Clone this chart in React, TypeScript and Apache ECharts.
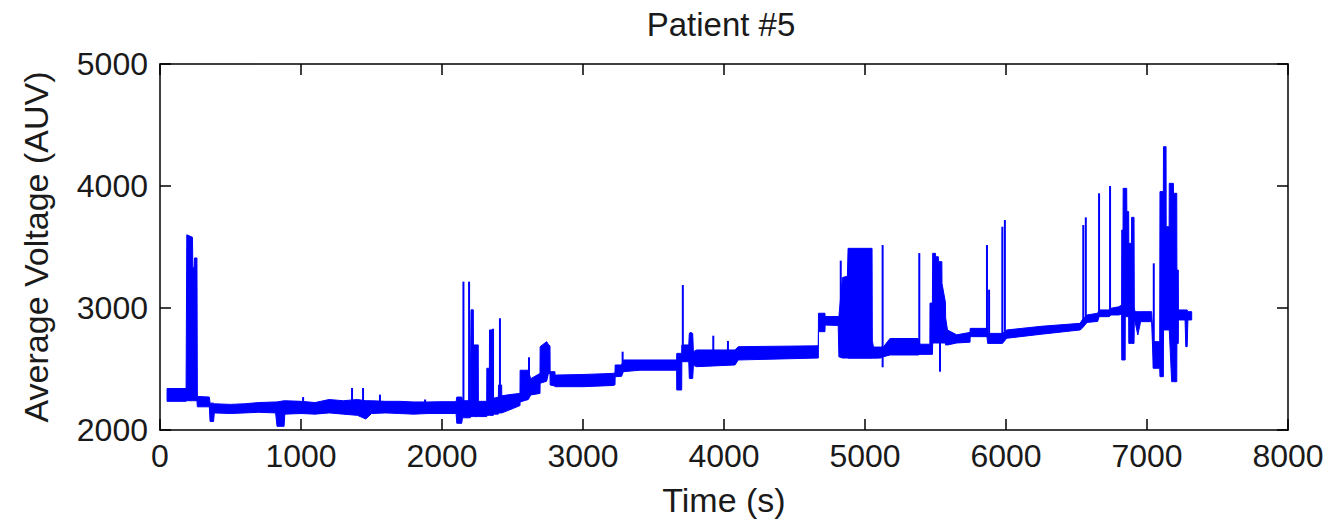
import React, { useEffect, useRef } from "react";
import * as echarts from "echarts";

// Envelope of the dense voltage trace: time (s), lower edge, upper edge (AUV)
const bandTime = [
  50, 185, 190, 230, 233, 242, 245, 262, 265, 350, 355, 380, 385, 500, 600, 700, 820, 830, 880, 885,
  1000, 1100, 1200, 1300, 1400, 1460, 1500, 1600, 1700, 1800, 1900, 2000, 2100, 2105, 2140, 2145, 2200, 2206, 2222, 2223,
  2257, 2258, 2317, 2318, 2336, 2337, 2364, 2365, 2400, 2401, 2423, 2424, 2480, 2553, 2554, 2612, 2629, 2695, 2696, 2742,
  2755, 2766, 2767, 2801, 2802, 3000, 3213, 3227, 3228, 3274, 3286, 3404, 3664, 3665, 3700, 3701, 3750, 3754, 3778, 3783,
  3806, 4078, 4101, 4669, 4670, 4716, 4717, 4810, 4815, 4840, 4875, 4880, 5050, 5052, 5060, 5110, 5130, 5177, 5376, 5390,
  5460, 5461, 5478, 5480, 5500, 5501, 5520, 5521, 5545, 5546, 5570, 5572, 5585, 5650, 5745, 5746, 5865, 5870, 5975, 6005,
  6250, 6525, 6540, 6575, 6650, 6660, 6733, 6742, 6800, 6820, 6821, 6830, 6831, 6845, 6846, 6856, 6857, 6870, 6871, 6890,
  6891, 6908, 6910, 6915, 6935, 6955, 7033, 7045, 7090, 7092, 7116, 7117, 7135, 7136, 7157, 7158, 7175, 7187, 7188, 7211,
  7212, 7222, 7223, 7270, 7275, 7285, 7290, 7317,
];
const bandLow = [
  2235, 2235, 2240, 2240, 2240, 2240, 2240, 2240, 2190, 2190, 2070, 2070, 2140, 2135, 2140, 2145, 2140, 2030, 2030, 2130,
  2135, 2130, 2140, 2130, 2120, 2090, 2135, 2140, 2135, 2130, 2135, 2135, 2135, 2055, 2055, 2100, 2100, 2110, 2110, 2110,
  2110, 2110, 2110, 2120, 2120, 2120, 2120, 2130, 2130, 2140, 2140, 2140, 2165, 2200, 2230, 2250, 2287, 2300, 2383, 2400,
  2464, 2464, 2369, 2360, 2355, 2355, 2365, 2370, 2437, 2440, 2478, 2490, 2490, 2328, 2328, 2560, 2560, 2423, 2423, 2530,
  2519, 2533, 2574, 2590, 2806, 2806, 2860, 2857, 2600, 2590, 2590, 2588, 2588, 2588, 2588, 2590, 2600, 2615, 2615, 2620,
  2620, 2620, 2620, 2713, 2713, 2713, 2713, 2713, 2713, 2713, 2713, 2697, 2697, 2713, 2720, 2765, 2765, 2710, 2710, 2752,
  2785, 2820, 2833, 2882, 2890, 2929, 2929, 2943, 2943, 2950, 2574, 2574, 2574, 2574, 2929, 2929, 2929, 2929, 2710, 2710,
  2710, 2710, 2888, 2888, 2779, 2888, 2888, 2506, 2506, 2437, 2437, 2820, 2820, 2820, 2820, 2820, 2396, 2396, 2396, 2396,
  2710, 2710, 2902, 2902, 2683, 2683, 2902, 2902,
];
const bandHigh = [
  2340, 2340, 3600, 3580, 3330, 3330, 3410, 3410, 2275, 2270, 2220, 2220, 2215, 2210, 2215, 2225, 2230, 2230, 2240, 2240,
  2235, 2225, 2250, 2240, 2250, 2240, 2240, 2235, 2235, 2230, 2230, 2232, 2232, 2270, 2270, 2240, 2240, 2985, 2985, 2697,
  2697, 2235, 2235, 2506, 2506, 2820, 2820, 2260, 2270, 2369, 2369, 2280, 2290, 2300, 2490, 2490, 2420, 2464, 2683, 2724,
  2700, 2690, 2478, 2478, 2450, 2455, 2464, 2470, 2533, 2533, 2574, 2574, 2574, 2628, 2628, 2697, 2697, 2792, 2792, 2642,
  2656, 2656, 2683, 2690, 2957, 2957, 2930, 2930, 2930, 3250, 3260, 3489, 3489, 2730, 2680, 2680, 2680, 2750, 2750, 2703,
  2703, 3040, 3040, 3448, 3448, 3420, 3420, 3380, 3380, 3200, 3050, 2918, 2820, 2780, 2800, 2833, 2833, 2792, 2792, 2820,
  2850, 2874, 2902, 2943, 2957, 2984, 2984, 2997, 3010, 3025, 3639, 3639, 3981, 3981, 3981, 3981, 3790, 3790, 3530, 3530,
  3743, 3743, 3000, 2970, 2970, 2970, 2970, 2724, 2724, 3954, 3954, 4322, 4322, 3666, 3666, 4022, 4022, 4022, 3940, 3940,
  3311, 3311, 2984, 2984, 2984, 2984, 2970, 2970,
];

// Isolated thin spikes: time (s), start value, end value (AUV)
const spikeTime = [1015, 1362, 1440, 1560, 1880, 2152, 2192, 2362, 2411, 2617, 3281, 3708, 3764, 3924, 4028, 4828, 5125, 5385, 5532, 5865, 5880, 5974, 5992, 6548, 6566, 6660, 6738, 7048];
const spikeFrom = [2200, 2200, 2200, 2200, 2200, 2200, 2200, 2200, 2200, 2300, 2480, 2560, 2500, 2550, 2560, 2600, 2514, 2620, 2478, 2765, 2765, 2750, 2750, 2850, 2880, 2930, 2940, 2506];
const spikeTo = [2270, 2344, 2344, 2290, 2250, 3216, 3216, 2830, 2916, 2596, 2642, 3188, 2803, 2773, 2730, 3388, 3516, 3450, 2750, 3516, 3150, 3666, 3721, 3680, 3743, 3940, 4000, 3366];

const xMin = 0;
const xMax = 8000;
const xStep = 1000;
const yMin = 2000;
const yMax = 5000;
const yStep = 1000;

const titleText = "Patient #5";
const xName = "Time (s)";
const yName = "Average Voltage (AUV)";

const BLUE = "#0000ff";
const INK = "#1a1a1a";
const FONT = "'Liberation Sans', Arial, sans-serif";

export default function App() {
  const ref = useRef<HTMLDivElement>(null);

  useEffect(() => {
    if (!ref.current) return;
    const chart = echarts.init(ref.current, null, { renderer: "svg" });

    const bandData = bandTime.map((t, i) => [t, bandLow[i], bandHigh[i]]);
    const spikeData = spikeTime.map((t, i) => [t, spikeFrom[i], spikeTo[i]]);

    const axisCommon = {
      type: "value" as const,
      axisLine: { show: true, onZero: false, lineStyle: { color: "#000", width: 1.5 } },
      axisTick: { show: true, inside: true, length: 11, lineStyle: { color: "#000", width: 1.5 } },
      splitLine: { show: false },
    };
    const plain = (v: number) => String(v);

    chart.setOption({
      animation: false,
      backgroundColor: "#ffffff",
      title: {
        text: titleText,
        left: 716,
        top: 3,
        textAlign: "center",
        textStyle: { fontFamily: FONT, fontSize: 33, fontWeight: "normal", color: INK },
      },
      grid: { left: 160, right: 44, top: 64, bottom: 94, containLabel: false },
      xAxis: [
        {
          ...axisCommon,
          position: "bottom",
          min: xMin,
          max: xMax,
          interval: xStep,
          name: xName,
          nameLocation: "middle",
          nameGap: 53,
          nameTextStyle: { fontFamily: FONT, fontSize: 34, color: INK },
          axisLabel: { fontFamily: FONT, fontSize: 32, color: INK, margin: 10, formatter: plain },
        },
        {
          ...axisCommon,
          position: "top",
          min: xMin,
          max: xMax,
          interval: xStep,
          axisLabel: { show: false },
        },
      ],
      yAxis: [
        {
          ...axisCommon,
          position: "left",
          min: yMin,
          max: yMax,
          interval: yStep,
          name: yName,
          nameLocation: "middle",
          nameGap: 107,
          nameTextStyle: { fontFamily: FONT, fontSize: 34, color: INK },
          axisLabel: { fontFamily: FONT, fontSize: 32, color: INK, margin: 12, formatter: plain },
        },
        {
          ...axisCommon,
          position: "right",
          min: yMin,
          max: yMax,
          interval: yStep,
          axisLabel: { show: false },
        },
      ],
      series: [
        {
          type: "custom",
          name: "band",
          xAxisIndex: 0,
          yAxisIndex: 0,
          data: bandData,
          encode: { x: 0, y: [1, 2] },
          renderItem: (params: any, api: any) => {
            if (params.dataIndex !== 0) return null;
            const upper = bandData.map((d) => api.coord([d[0], d[2]]));
            const lower = bandData
              .slice()
              .reverse()
              .map((d) => api.coord([d[0], d[1]]));
            return {
              type: "polygon",
              shape: { points: upper.concat(lower) },
              style: { fill: BLUE, stroke: BLUE, lineWidth: 1 },
            };
          },
        },
        {
          type: "custom",
          name: "spikes",
          xAxisIndex: 0,
          yAxisIndex: 0,
          data: spikeData,
          encode: { x: 0, y: [1, 2] },
          renderItem: (params: any, api: any) => {
            const p1 = api.coord([api.value(0), api.value(1)]);
            const p2 = api.coord([api.value(0), api.value(2)]);
            return {
              type: "line",
              shape: { x1: p1[0], y1: p1[1], x2: p2[0], y2: p2[1] },
              style: { stroke: BLUE, lineWidth: 2 },
            };
          },
        },
      ],
    });

    return () => chart.dispose();
  }, []);

  return (
    <div
      ref={ref}
      style={{ position: "fixed", left: 0, top: 0, width: 1332, height: 524, background: "#fff" }}
    />
  );
}
